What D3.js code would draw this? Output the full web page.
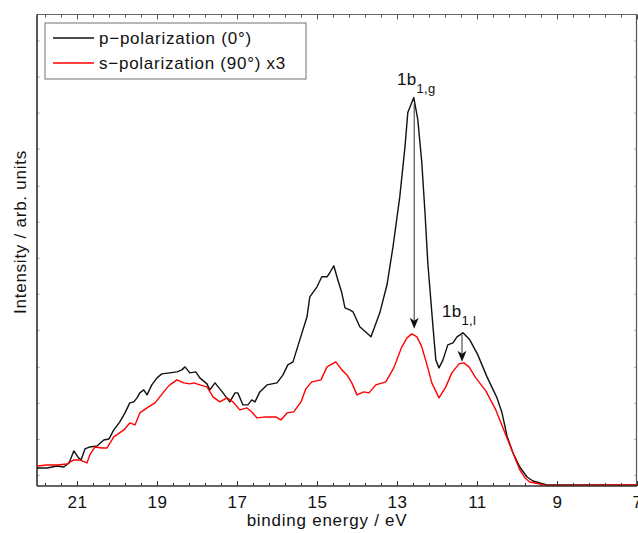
<!DOCTYPE html>
<html>
<head>
<meta charset="utf-8">
<script src="https://cdn.jsdelivr.net/npm/d3@7"></script>
<style>
  html, body { margin: 0; padding: 0; background: #fff; }
  svg { display: block; }
  text { font-family: "Liberation Sans", Arial, Helvetica, sans-serif; fill: #111; }
</style>
</head>
<body>
<svg id="chart" width="638" height="533"></svg>
<script>
// ---- data (binding energy in eV, intensity in arbitrary units) ----
const pEnergy = [22.00,21.75,21.50,21.33,21.20,21.08,20.98,20.90,20.80,20.68,20.50,20.33,20.20,20.08,19.93,19.80,19.68,19.58,19.50,19.43,19.33,19.25,19.13,19.00,18.88,18.68,18.50,18.38,18.30,18.18,18.03,17.93,17.75,17.68,17.55,17.35,17.18,17.05,16.98,16.85,16.73,16.63,16.55,16.43,16.25,16.00,15.85,15.73,15.60,15.43,15.25,15.18,15.00,14.88,14.75,14.68,14.58,14.48,14.38,14.30,14.18,14.10,13.93,13.65,13.43,13.25,13.10,12.93,12.80,12.73,12.63,12.58,12.48,12.38,12.30,12.23,12.10,12.03,11.95,11.85,11.73,11.60,11.50,11.35,11.18,10.98,10.75,10.50,10.38,10.25,10.10,9.93,9.75,9.60,9.43,9.25,7.00];
const pIntensity = [18,18,20,19,23,35,29,26,37,39,40,46,47,56,64,73,83,84,88,93,96,91,101,108,112,113,114,116,119,113,114,108,102,96,103,93,84,93,93,81,81,86,84,94,101,103,111,121,124,146,169,189,199,209,209,213,220,206,193,178,176,174,159,149,173,201,239,289,339,373,383,388,366,323,273,223,159,126,118,126,141,143,149,153,146,131,109,88,74,50,33,19,9,5,3,1,1];

const sEnergy = [22.00,21.75,21.50,21.25,21.08,20.93,20.75,20.68,20.55,20.38,20.25,20.08,19.83,19.68,19.55,19.43,19.25,19.05,18.93,18.75,18.68,18.50,18.33,18.18,18.08,17.93,17.75,17.60,17.43,17.25,17.10,16.93,16.75,16.63,16.50,16.28,16.03,15.90,15.75,15.58,15.40,15.28,15.13,14.90,14.75,14.53,14.38,14.25,14.13,14.00,13.83,13.70,13.53,13.28,13.08,12.88,12.75,12.63,12.50,12.38,12.25,12.13,11.95,11.78,11.63,11.45,11.33,11.20,11.03,10.78,10.53,10.28,10.13,9.93,9.80,9.68,9.43,9.25,7.00];
const sIntensity = [20,21,21,22,26,26,23,31,39,38,38,49,56,63,61,73,78,83,89,98,101,106,103,102,103,101,99,89,84,88,84,76,78,74,68,69,69,66,73,74,84,97,104,106,119,124,116,111,103,91,94,93,101,104,118,139,148,152,149,139,121,103,88,99,113,122,123,119,108,95,76,51,36,16,8,4,2,0.5,1];

const seriesNames = ["p\u2212polarization (0\u00b0)", "s\u2212polarization (90\u00b0) x3"];
const seriesColors = ["#111111", "#ff0000"];

const xMajorTicks = [21, 19, 17, 15, 13, 11, 9, 7];
const yTickValues = [11, 47, 83, 119, 156, 192, 228, 264, 300, 337, 373, 409, 445];

// annotations: label main text, subscript, label anchor (E, I), arrow (E, from I, to I)
const annoMain = ["1b", "1b"];
const annoSub = ["1,g", "1,l"];
const annoE = [13.0, 11.875];
const annoI = [401, 169];
const arrowE = [12.57, 11.375];
const arrowFrom = [382, 151];
const arrowTo = [157, 124];

// ---- chart ----
const svg = d3.select("#chart");
const pLeft = 37, pRight = 637, pTop = 14.5, pBottom = 486;
const x = d3.scaleLinear().domain([22, 7]).range([pLeft, pRight]);
const y = d3.scaleLinear().domain([0, 471]).range([pBottom, pTop]);
const FS = 17, LS = "0.75px";

// minor ticks every 0.4 eV
const minor = d3.range(0, 38).map(i => +(7 + i * 0.4).toFixed(2)).filter(v => v < 22 && !xMajorTicks.includes(v));

const axG = svg.append("g");
const bottomAxis = d3.axisBottom(x).tickValues(xMajorTicks).tickSize(-5).tickPadding(10).tickFormat(d3.format("d"));
const gB = axG.append("g").attr("transform", `translate(0,${pBottom})`).call(bottomAxis);
gB.select(".domain").remove();
gB.selectAll(".tick line").attr("stroke", "#333");
gB.selectAll(".tick text").attr("font-size", FS).attr("fill", "#111").attr("dy", "0.71em").attr("y", 10)
  .style("font-family", '"Liberation Sans", Arial, sans-serif').style("letter-spacing", "0.5px");
const gBm = axG.append("g").attr("transform", `translate(0,${pBottom})`).call(d3.axisBottom(x).tickValues(minor).tickSize(-3).tickFormat(""));
gBm.select(".domain").remove();
gBm.selectAll(".tick line").attr("stroke", "#333");

const gT = axG.append("g").attr("transform", `translate(0,${pTop})`).call(d3.axisTop(x).tickValues(xMajorTicks).tickSize(-5).tickFormat(""));
gT.select(".domain").remove();
gT.selectAll(".tick line").attr("stroke", "#555");
const gTm = axG.append("g").attr("transform", `translate(0,${pTop})`).call(d3.axisTop(x).tickValues(minor).tickSize(-3).tickFormat(""));
gTm.select(".domain").remove();
gTm.selectAll(".tick line").attr("stroke", "#555");

const gL = axG.append("g").attr("transform", `translate(${pLeft},0)`).call(d3.axisLeft(y).tickValues(yTickValues).tickSize(-3).tickFormat(""));
gL.select(".domain").remove();
gL.selectAll(".tick line").attr("stroke", "#bbb");
const gR = axG.append("g").attr("transform", `translate(${pRight},0)`).call(d3.axisRight(y).tickValues(yTickValues).tickSize(-3).tickFormat(""));
gR.select(".domain").remove();
gR.selectAll(".tick line").attr("stroke", "#bbb");

// frame
svg.append("line").attr("x1", pLeft).attr("x2", pRight).attr("y1", pTop).attr("y2", pTop).attr("stroke", "#666").attr("stroke-width", 1);
svg.append("line").attr("x1", pRight - 0.5).attr("x2", pRight - 0.5).attr("y1", pTop).attr("y2", pBottom).attr("stroke", "#555").attr("stroke-width", 1.2);
svg.append("line").attr("x1", pLeft).attr("x2", pLeft).attr("y1", pTop).attr("y2", pBottom).attr("stroke", "#111").attr("stroke-width", 1.4);

// curves
const line = d3.line().x(d => x(d[0])).y(d => y(d[1]));
const pData = pEnergy.map((e, i) => [e, pIntensity[i]]);
const sData = sEnergy.map((e, i) => [e, sIntensity[i]]);
svg.append("path").datum(pData).attr("d", line).attr("fill", "none").attr("stroke", seriesColors[0]).attr("stroke-width", 1.4).attr("stroke-linejoin", "round");
svg.append("path").datum(sData).attr("d", line).attr("fill", "none").attr("stroke", seriesColors[1]).attr("stroke-width", 1.4).attr("stroke-linejoin", "round");

svg.append("line").attr("x1", pLeft).attr("x2", pRight).attr("y1", pBottom).attr("y2", pBottom).attr("stroke", "#333").attr("stroke-width", 1.4);

// arrows
arrowE.forEach((e, i) => {
  const ax = x(e), y0 = y(arrowFrom[i]), y1 = y(arrowTo[i]);
  svg.append("line").attr("x1", ax).attr("x2", ax).attr("y1", y0).attr("y2", y1 - 8).attr("stroke", "#333").attr("stroke-width", 1);
  svg.append("path").attr("d", `M${ax},${y1} L${ax - 4.5},${y1 - 11} L${ax},${y1 - 8} L${ax + 4.5},${y1 - 11} Z`).attr("fill", "#111");
});

// annotation labels
annoMain.forEach((t, i) => {
  const tx = svg.append("text").attr("x", x(annoE[i])).attr("y", y(annoI[i])).attr("font-size", 17).style("letter-spacing", "0.3px");
  tx.append("tspan").text(t);
  tx.append("tspan").attr("dy", 8).attr("font-size", 13).text(annoSub[i]);
});

// axis labels
svg.append("text").attr("x", 327).attr("y", 526).attr("text-anchor", "middle").attr("font-size", FS).style("letter-spacing", LS).text("binding energy / eV");
svg.append("text").attr("transform", "translate(26,232) rotate(-90)").attr("text-anchor", "middle").attr("font-size", FS).style("letter-spacing", LS).text("Intensity / arb. units");

// legend
const lg = svg.append("g");
lg.append("rect").attr("x", 45).attr("y", 23).attr("width", 261).attr("height", 56).attr("fill", "#fff").attr("stroke", "#888").attr("stroke-width", 1.2);
seriesNames.forEach((n, i) => {
  const ly = 38 + i * 25;
  lg.append("line").attr("x1", 53).attr("x2", 94).attr("y1", ly).attr("y2", ly).attr("stroke", seriesColors[i]).attr("stroke-width", 1.4);
  lg.append("text").attr("x", 99).attr("y", ly + 6).attr("font-size", FS).style("letter-spacing", LS).text(n);
});
</script>
</body>
</html>
